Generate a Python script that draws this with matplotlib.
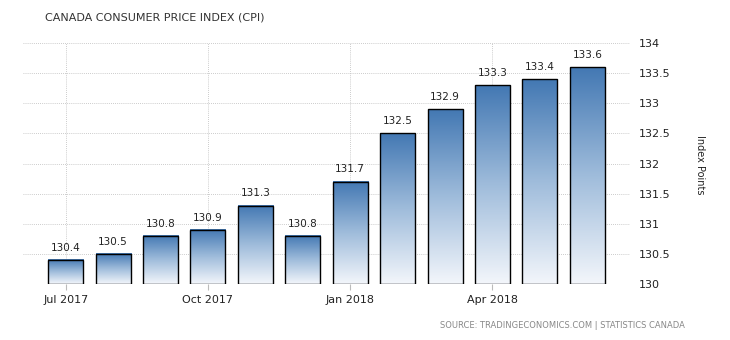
import numpy as np
import matplotlib
matplotlib.use("Agg")
from matplotlib import pyplot as plt
from matplotlib.colors import LinearSegmentedColormap

months = ['Jul 2017', 'Aug 2017', 'Sep 2017', 'Oct 2017', 'Nov 2017', 'Dec 2017',
          'Jan 2018', 'Feb 2018', 'Mar 2018', 'Apr 2018', 'May 2018', 'Jun 2018']
cpi = [130.4, 130.5, 130.8, 130.9, 131.3, 130.8,
       131.7, 132.5, 132.9, 133.3, 133.4, 133.6]
tick_idx = [0, 3, 6, 9]
yticks = [130, 130.5, 131, 131.5, 132, 132.5, 133, 133.5, 134]
ytick_labels = ['130', '130.5', '131', '131.5', '132', '132.5', '133', '133.5', '134']

base = 130
bar_w = 0.74
grad = LinearSegmentedColormap.from_list('blues', ['#f3f6fb', '#9fbcdb', '#4378b3'])

fig = plt.figure(figsize=(7.3, 3.4), dpi=100)
ax = fig.add_axes([23 / 730, 1 - 284 / 340, (630 - 23) / 730, (284 - 43) / 340])

x = np.arange(len(cpi))
bars = ax.bar(x, np.array(cpi) - base, bottom=base, width=bar_w,
              facecolor='none', edgecolor='black', linewidth=1.0, zorder=3)

# vertical gradient fill inside each bar
g = np.linspace(0, 1, 256).reshape(-1, 1)
for b in bars:
    x0, y0 = b.get_x(), b.get_y()
    ax.imshow(g, cmap=grad, origin='lower', aspect='auto', interpolation='bicubic',
              extent=(x0, x0 + b.get_width(), y0, y0 + b.get_height()), zorder=2)

for xi, v in zip(x, cpi):
    ax.text(xi, v + 0.12, f'{v:.1f}', ha='center', va='bottom', fontsize=7.5,
            color='#222222')

ax.set_xlim(-0.9, 11.9)
ax.set_ylim(130, 134)
ax.set_xticks(tick_idx)
ax.set_xticklabels([months[i] for i in tick_idx])
ax.set_yticks(yticks)
ax.set_yticklabels(ytick_labels)
ax.yaxis.tick_right()
ax.tick_params(axis='y', length=0, pad=6, labelsize=8, labelcolor='#222222')
ax.tick_params(axis='x', length=4, color='#bbbbbb', labelsize=8, labelcolor='#222222', pad=4)

ax.grid(True, linestyle=(0, (1, 1.5)), color='#bbbbbb', linewidth=0.6, zorder=0)
for s in ax.spines.values():
    s.set_visible(False)

fig.text(700 / 730, 1 - 165 / 340, 'Index Points', rotation=-90, ha='center', va='center',
         fontsize=7, color='#222222')
fig.text(45 / 730, 1 - 17 / 340, 'CANADA CONSUMER PRICE INDEX (CPI)', ha='left', va='center',
         fontsize=8, color='#333333')
fig.text(685 / 730, 1 - 326 / 340, 'SOURCE: TRADINGECONOMICS.COM | STATISTICS CANADA',
         ha='right', va='center', fontsize=6, color='#888888')

fig.savefig('out.png', dpi=100)
